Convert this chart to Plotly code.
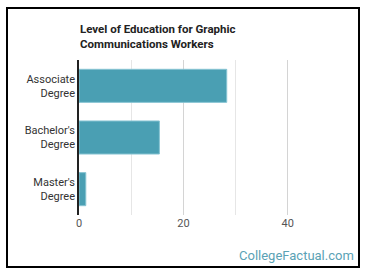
import plotly.graph_objects as go

categories = ["Associate<br>Degree", "Bachelor's<br>Degree", "Master's<br>Degree"]
values = [28.3, 15.4, 1.3]
tick_vals = [0, 20, 40]
minor_vals = [10, 30]
title = "Level of Education for Graphic<br>Communications Workers"

L, R, T, B = 79, 30, 60, 63
W, H = 370, 278
pw, ph = W - L - R, H - T - B

def px(x):
    return (x - L) / pw

def py(y):
    return (H - B - y) / ph

fig = go.Figure(go.Bar(
    x=values, y=categories, orientation="h",
    marker=dict(color="#4a9fb3", line=dict(color="#86c3d2", width=1)),
    hoverinfo="skip",
))

fig.update_layout(
    width=W, height=H,
    margin=dict(l=L, r=R, t=T, b=B),
    paper_bgcolor="white", plot_bgcolor="white",
    bargap=0.36,
    showlegend=False,
    font=dict(family="Roboto", size=11, color="#333"),
    xaxis=dict(
        range=[0, 50], tickvals=tick_vals, showgrid=True, gridcolor="#d4d4d4", gridwidth=1,
        zeroline=False, showline=False, ticks="", tickfont=dict(size=11, color="#555"),
        minor=dict(tickvals=minor_vals, showgrid=True, gridcolor="#e6e6e6", gridwidth=1),
        fixedrange=True,
    ),
    yaxis=dict(
        categoryorder="array", categoryarray=categories, autorange="reversed",
        showline=True, linecolor="#222", linewidth=1.5, ticks="", ticklen=0,
        ticklabelstandoff=0,
        tickfont=dict(size=11, color="#333"), showgrid=False, fixedrange=True,
    ),
    annotations=[
        dict(text="<b>" + title + "</b>", xref="paper", yref="paper", x=px(78), y=py(20),
             xanchor="left", yanchor="top", showarrow=False, align="left",
             font=dict(family="Roboto", size=11.5, color="#222")),
        dict(text="CollegeFactual.com", xref="paper", yref="paper", x=px(356), y=py(255),
             xanchor="right", yanchor="middle", showarrow=False,
             font=dict(family="Roboto", size=13, color="#5aa2b5")),
    ],
    shapes=[
        dict(type="rect", xref="paper", yref="paper", x0=px(7), x1=px(359), y0=py(267), y1=py(8),
             line=dict(color="#000", width=2), fillcolor="rgba(0,0,0,0)", layer="above"),
    ],
)

fig.write_html("out.html")
